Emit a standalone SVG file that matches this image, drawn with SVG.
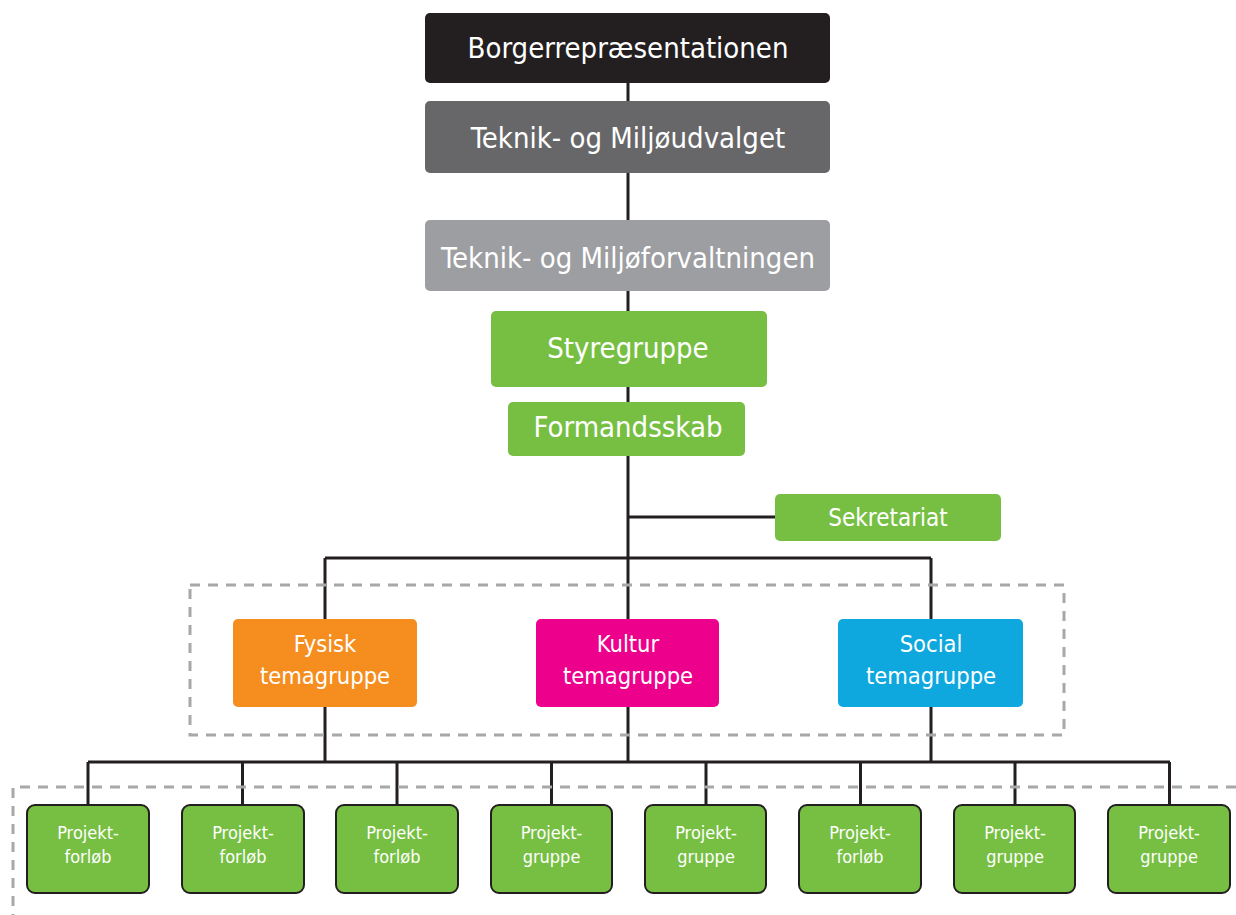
<svg xmlns="http://www.w3.org/2000/svg" width="1236" height="915" viewBox="0 0 1236 915">
<style>
text{font-family:"DejaVu Sans Condensed","Liberation Sans",sans-serif;fill:#fff;text-anchor:middle}
.big{font-size:29px}
.mid{font-size:23.5px}
.sek{font-size:24px}
.xs{font-size:18px}
.ln{stroke:#231f20;stroke-width:3;fill:none}
.dash{stroke:#a7a8aa;stroke-width:3;fill:none;stroke-dasharray:10 8}
.g{fill:#77bf43}
.p{fill:#77bf43;stroke:#231f20;stroke-width:2}
</style>
<rect width="1236" height="915" fill="#fff"/>
<g id="connectors">
<path class="ln" d="M628 83V311M628 387V402M628 456V762M628 517H775M325 558H931M325 558V619M931 558V619M325 707V762M931 707V762M88 762H1170M88 762V805M242.5 762V805M397 762V805M551.5 762V805M706 762V805M860.5 762V805M1015 762V805M1169.5 762V805"/>
</g>
<g id="frames">
<rect class="dash" x="190" y="585" width="874" height="150"/>
<path class="dash" d="M1236 787H13V915"/>
</g>
<g id="borgerrepraesentationen"><rect x="425" y="13" width="405" height="70" rx="5" fill="#231f20"/><text class="big" x="628" y="58">Borgerrepræsentationen</text></g>
<g id="udvalget"><rect x="425" y="101" width="405" height="72" rx="5" fill="#676769"/><text class="big" x="628" y="148">Teknik- og Miljøudvalget</text></g>
<g id="forvaltningen"><rect x="425" y="220" width="405" height="71" rx="5" fill="#9d9ea1"/><text class="big" x="628" y="268">Teknik- og Miljøforvaltningen</text></g>
<g id="styregruppe"><rect class="g" x="491" y="311" width="276" height="76" rx="5"/><text class="big" x="628" y="358">Styregruppe</text></g>
<g id="formandsskab"><rect class="g" x="508" y="402" width="237" height="54" rx="5"/><text class="big" x="628" y="437">Formandsskab</text></g>
<g id="sekretariat"><rect class="g" x="775" y="494" width="226" height="47" rx="5"/><text class="sek" x="888" y="526">Sekretariat</text></g>
<g id="fysisk"><rect x="233" y="619" width="184" height="88" rx="5" fill="#f58e1f"/><text class="mid" x="325" y="652">Fysisk</text><text class="mid" x="325" y="684">temagruppe</text></g>
<g id="kultur"><rect x="536" y="619" width="183" height="88" rx="5" fill="#ec008c"/><text class="mid" x="628" y="652">Kultur</text><text class="mid" x="628" y="684">temagruppe</text></g>
<g id="social"><rect x="838" y="619" width="185" height="88" rx="5" fill="#0ea8df"/><text class="mid" x="931" y="652">Social</text><text class="mid" x="931" y="684">temagruppe</text></g>
<g id="p1"><rect class="p" x="27" y="805" width="122" height="88" rx="8"/><text class="xs" x="88" y="839">Projekt-</text><text class="xs" x="88" y="863">forløb</text></g>
<g id="p2"><rect class="p" x="182" y="805" width="122" height="88" rx="8"/><text class="xs" x="243" y="839">Projekt-</text><text class="xs" x="243" y="863">forløb</text></g>
<g id="p3"><rect class="p" x="336" y="805" width="122" height="88" rx="8"/><text class="xs" x="397" y="839">Projekt-</text><text class="xs" x="397" y="863">forløb</text></g>
<g id="p4"><rect class="p" x="491" y="805" width="121" height="88" rx="8"/><text class="xs" x="551.5" y="839">Projekt-</text><text class="xs" x="551.5" y="863">gruppe</text></g>
<g id="p5"><rect class="p" x="645" y="805" width="121" height="88" rx="8"/><text class="xs" x="706" y="839">Projekt-</text><text class="xs" x="706" y="863">gruppe</text></g>
<g id="p6"><rect class="p" x="799" y="805" width="122" height="88" rx="8"/><text class="xs" x="860" y="839">Projekt-</text><text class="xs" x="860" y="863">forløb</text></g>
<g id="p7"><rect class="p" x="954" y="805" width="121" height="88" rx="8"/><text class="xs" x="1015" y="839">Projekt-</text><text class="xs" x="1015" y="863">gruppe</text></g>
<g id="p8"><rect class="p" x="1108" y="805" width="122" height="88" rx="8"/><text class="xs" x="1169" y="839">Projekt-</text><text class="xs" x="1169" y="863">gruppe</text></g>
</svg>
